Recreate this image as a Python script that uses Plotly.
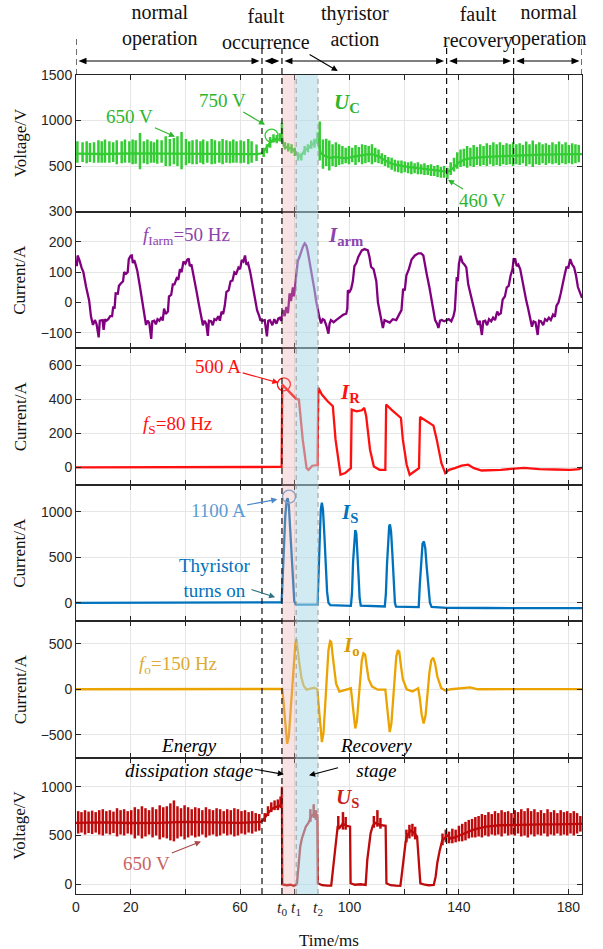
import plotly.graph_objects as go
from plotly.subplots import make_subplots

# ---------------- data ----------------
# Panel 1: capacitor voltage U_C (baseline + switching spikes)
uc_base = [(0,635),(10,632),(20,638),(30,635),(40,640),(50,635),(60,632),(66,630),(68,640),(69.5,690),(71,760),(72.5,800),
           (74,790),(75.3,820),(76,720),(77.5,700),(79,690),(80.5,650),(82,600),(83.5,670),(85,700),(86.5,740),(88.3,790),
           (89.5,640),(91,610),(93,590),(95,600),(97,590),(99,585),(101,600),(103,610),(105,620),(107,630),(109,625),
           (111,600),(113,560),(116,520),(120,495),(125,475),(130,455),(134,440),(136,435),(138,480),(140,540),(142,570),
           (145,590),(150,600),(155,608),(160,615),(165,620),(170,625),(175,628),(180,630),(185,630)]
uc_spikes = [(0.5,772,537),(2.4,761,543),(3.9,772,529),(5.1,754,543),(6.6,761,537),(8.2,783,537),(9.4,772,537),(10.6,790,537),
             (12.2,772,537),(13.6,761,543),(14.9,783,518),(16.7,772,529),(17.9,790,537),(19.5,772,537),(20.7,790,518),
             (21.8,783,526),(23.4,863,464),(24.8,772,529),(26.1,790,518),(27.4,772,537),(28.5,761,537),(29.7,790,526),
             (31.3,783,537),(32.8,826,500),(34.3,797,500),(35.8,808,518),(37.1,826,500),(38.6,874,464),(40.2,797,508),
             (41.4,772,529),(42.6,783,518),(44.1,790,518),(45.5,772,537),(46.5,790,518),(48.0,772,537),(49.6,797,518),
             (50.8,783,526),(52.4,772,537),(53.6,797,518),(55.0,783,537),(56.3,772,529),(57.5,790,537),(58.7,772,537),
             (60.2,783,529),(61.4,772,537),(63.0,797,518),(64.2,772,537),(66.0,736,554),
             (68.6,700,600),(69.8,740,640),(71.0,820,700),(72.2,850,760),(73.4,840,750),(74.6,860,770),(75.3,975,760),
             (76.4,760,680),(77.6,750,660),(78.8,740,640),(80.0,700,610),(81.2,650,560),(82.4,640,560),(83.6,720,620),
             (84.8,740,650),(86.0,780,690),(87.2,800,700),(88.3,870,740),
             (89.1,990,560),(90.3,790,470),(91.5,800,500),(92.6,780,450),(93.8,740,500),(95.0,760,490),(96.2,740,510),
             (97.4,720,520),(98.6,700,530),(99.8,720,520),(101.0,700,540),(102.2,730,510),(103.4,710,540),(104.6,740,520),
             (105.8,730,530),(107.0,720,540),(108.2,740,520),(109.4,700,540),(110.6,680,530),(111.8,640,520),(113.0,620,500),
             (114.2,600,480),(115.4,590,460),(116.6,570,440),(117.8,560,430),(119.0,560,420),(120.2,550,430),(121.4,540,420),
             (122.6,550,410),(123.8,530,420),(125.0,540,410),(126.2,520,410),(127.4,530,400),(128.6,510,400),(129.8,520,390),
             (131.0,500,390),(132.2,510,380),(133.4,490,370),(134.6,500,370),(135.8,480,360),(137.0,540,400),(138.2,590,440),
             (139.4,650,470),(140.6,680,490),(141.8,690,500),(143.0,720,480),(144.2,700,500),(145.4,730,490),(146.6,710,510),
             (147.8,740,500),(149.0,720,510),(150.2,750,500),(151.4,730,520),(152.6,760,500),(153.8,740,510),(155.0,760,500),
             (156.2,730,520),(157.4,750,510),(158.6,740,520),(159.8,760,500),(161.0,740,520),(162.2,750,510),(163.4,730,530),
             (164.6,770,500),(165.8,740,520),(167.0,780,490),(168.2,740,520),(169.4,760,510),(170.6,740,530),(171.8,750,510),
             (173.0,730,530),(174.2,760,520),(175.4,740,530),(176.6,770,510),(177.8,740,530),(179.0,760,520),(180.2,730,530),
             (181.4,750,520),(182.6,740,530),(183.8,730,540)]

# Panel 2: arm current I_arm
iarm = [(0,132),(0.3,120),(0.6,155),(1.0,140),(1.3,138),(2.0,116),(2.7,100),(3.7,51),(4.8,7),(5.5,-47),(6.2,-74),(6.9,-58),
        (7.5,-70),(8.3,-115),(8.7,-60),(9.7,-58),(10.1,-90),(10.6,-55),(11.1,-60),(11.8,-55),(12.5,-45),(13.2,-45),(13.6,-14),
        (14.1,-20),(14.5,30),(15.3,29),(15.7,55),(16.3,62),(17.2,70),(17.6,100),(18.3,95),(18.9,100),(19.3,143),(20.0,154),
        (20.4,155),(20.8,130),(21.3,140),(21.8,125),(22.4,105),(23.4,51),(24.3,0),(24.8,-25),(25.6,-74),(26.2,-60),(26.8,-68),
        (27.5,-120),(27.9,-62),(28.6,-60),(29.2,-72),(29.8,-55),(30.5,-60),(31.2,-48),(31.7,-60),(32.2,-20),(32.8,-38),
        (33.6,-30),(34.0,20),(34.8,25),(35.4,60),(36.0,60),(36.8,80),(37.4,75),(38.0,110),(38.6,100),(39.3,135),(40.0,128),
        (40.6,140),(41.2,145),(41.6,120),(42.2,125),(43.0,90),(44.0,40),(45.0,-10),(45.8,-55),(46.4,-75),(47.0,-60),(47.6,-70),
        (48.2,-110),(48.6,-60),(49.4,-62),(50.0,-75),(50.6,-55),(51.3,-58),(52.0,-45),(52.6,-60),(53.2,-30),(53.8,-38),
        (54.4,-10),(55.0,35),(55.8,40),(56.5,70),(57.2,72),(57.9,100),(58.6,95),(59.4,115),(60.0,110),(60.6,140),(61.2,135),
        (61.8,155),(62.3,125),(62.9,130),(63.7,100),(64.5,60),(65.3,20),(66.2,-25),(67.0,-45),(67.4,-58),(68.2,-60),(69.0,-58),
        (69.8,-112),(70.3,-60),(70.9,-58),(71.8,-75),(72.5,-55),(73.3,-70),(74.0,-52),(74.5,-50),(75.0,-60),(75.7,-25),
        (76.3,-45),(76.9,-15),(77.5,-35),(78.1,30),(78.6,5),(79.3,50),(79.7,20),(80.2,60),(80.6,90),(81.1,137),(81.7,150),
        (82.3,167),(83.0,185),(83.6,195),(84.2,188),(84.7,170),(85.3,140),(85.9,117),(86.6,80),(87.2,41),(87.8,5),(88.4,-25),
        (89.0,-50),(89.6,-69),(90.2,-55),(90.8,-58),(91.5,-75),(92.3,-103),(92.7,-70),(93.2,-58),(94.2,-65),(95.1,-58),
        (96.0,-52),(96.9,-48),(97.8,-40),(98.8,-37),(99.2,-20),(99.4,40),(100.0,35),(100.6,45),(101.2,70),(101.8,120),
        (102.5,130),(103.2,150),(103.7,160),(104.5,172),(105.5,176),(106.2,175),(106.7,172),(107.3,150),(107.9,117),
        (108.8,110),(109.8,70),(110.4,0),(111.3,-40),(112.2,-84),(112.8,-58),(113.7,-62),(114.7,-66),(115.8,-55),(117.1,-58),
        (118.1,-40),(119.0,-25),(119.6,45),(120.2,40),(120.8,90),(121.7,110),(122.7,142),(123.9,155),(125.2,162),(126.2,162),
        (127.0,155),(127.6,120),(128.2,95),(129.2,50),(130.1,0),(130.7,-30),(131.3,-58),(132.0,-70),(132.5,-84),(133.1,-60),
        (133.7,-58),(134.6,-62),(135.5,-58),(136.3,-55),(137.2,-62),(138.0,-45),(138.5,-25),(139.2,84),(139.6,70),(140.0,127),
        (140.6,154),(141.3,132),(142.0,125),(142.7,116),(143.4,60),(144.1,30),(144.8,7),(145.5,-20),(146.2,-47),(147.0,-74),
        (147.6,-60),(148.4,-107),(148.9,-62),(149.6,-60),(150.3,-75),(151.0,-55),(151.8,-62),(152.5,-50),(153.2,-58),
        (154.0,-30),(154.6,-40),(155.3,-36),(156.0,10),(156.8,20),(157.5,50),(158.2,55),(158.9,89),(159.6,110),(160.0,143),
        (160.6,143),(161.1,120),(161.7,125),(162.4,110),(163.1,73),(163.8,40),(164.6,7),(165.3,-20),(166.0,-47),(166.7,-80),
        (167.3,-62),(168.0,-65),(168.8,-107),(169.3,-60),(170.0,-62),(170.8,-75),(171.5,-55),(172.2,-60),(172.9,-50),
        (173.6,-58),(174.4,-40),(175.1,-47),(175.7,-10),(176.4,0),(177.2,29),(177.8,60),(178.6,89),(179.3,116),(180.0,115),
        (180.7,143),(181.4,125),(182.1,116),(182.8,90),(183.5,51),(184.2,35),(185.0,15)]

# Panel 3: resistor current I_R
ir = [(0,0),(15,1),(30,2),(45,-1),(60,2),(75.2,3),(75.4,485),(77.3,455),(79,425),(80.5,402),(81.5,398),(82.9,163),(84.3,-4),
      (85,-14),(86.4,10),(88.3,14),(88.6,467),(89.9,427),(92,388),(93.9,359),(94.9,163),(96.7,-43),(98.4,-33),(100.5,-4),
      (100.8,339),(102.6,329),(104.5,335),(105.4,349),(106.1,300),(107.5,104),(108.9,6),(111,-14),(113.1,-14),(113.4,369),
      (115.3,339),(118.8,290),(119.5,163),(120.9,16),(122,-43),(123.7,-24),(125.4,-4),(125.8,296),(127.9,276),(130.7,245),
      (131.9,163),(133.6,25),(135,-33),(136.4,-14),(138.5,-4),(141,10),(143.4,16),(145.5,-4),(148.3,-18),(155.3,-14),
      (163.8,-2),(169.4,-10),(175,-12),(180.7,-14),(184,-10),(185,0)]

# Panel 4: thyristor current I_S
is_ = [(0,0),(20,3),(40,2),(60,4),(75.2,5),(75.6,300),(76.0,650),(76.5,950),(77.0,1120),(77.4,1150),(77.8,1080),(78.3,800),
       (78.8,450),(79.3,150),(79.8,20),(80.3,-15),(80.8,-19),(88.3,-20),(88.7,300),(89.1,750),(89.5,1030),(89.9,1100),
       (90.3,1020),(90.8,750),(91.3,420),(91.8,120),(92.3,0),(93.0,-26),(100.5,-33),(100.9,100),(101.3,450),(101.7,700),
       (102.1,800),(102.5,760),(102.9,580),(103.3,300),(103.7,50),(104.1,-30),(112.9,-40),(113.3,100),(113.7,420),(114.1,680),
       (114.5,840),(114.8,860),(115.2,780),(115.7,520),(116.2,200),(116.6,0),(117.0,-42),(125.3,-48),(125.7,200),(126.2,500),
       (126.7,650),(127.2,675),(127.7,600),(128.2,400),(128.8,150),(129.4,0),(130.0,-45),(135.6,-55),(150,-57),(170,-58),
       (183.5,-59),(185,-59)]

# Panel 5: output current I_o
io = [(0,0),(20,3),(40,2),(60,3),(75.4,3),(75.9,-150),(76.5,-400),(77.2,-600),(77.8,-520),(78.4,-250),(79,50),(79.6,300),
      (80.2,500),(80.6,550),(81.1,450),(81.7,280),(82.4,130),(83.2,40),(84.3,-5),(85.7,10),(87.1,18),(88.2,0),(88.7,-150),
      (89.3,-400),(89.9,-580),(90.5,-480),(91.1,-150),(91.7,200),(92.3,430),(92.9,530),(93.3,520),(93.8,380),(94.4,200),
      (95.1,60),(96.3,-25),(98.4,-10),(100.5,10),(100.9,-100),(101.5,-300),(102.1,-430),(102.7,-350),(103.3,-100),
      (103.9,150),(104.5,320),(105.1,395),(105.7,380),(106.3,250),(107,110),(108.2,30),(110.3,-5),(113.1,-5),(113.5,-120),
      (114.1,-340),(114.7,-470),(115.3,-380),(115.9,-120),(116.5,170),(117.1,360),(117.7,430),(118.2,410),(118.8,260),
      (119.5,110),(120.9,0),(123,-25),(125.1,10),(125.7,-100),(126.4,-280),(127.1,-375),(127.8,-290),(128.5,-50),
      (129.2,180),(129.9,320),(130.6,345),(131.3,280),(132.1,140),(133.5,15),(135,-15),(137.1,0),(144.1,20),(146.9,0),
      (160,3),(175,5),(185,2)]

# Panel 6: submodule voltage U_S (baseline + spikes)
us_base = [(0,630),(10,635),(20,628),(30,630),(40,640),(50,632),(60,630),(67.5,640),(68.5,660),(69.5,700),(70.5,740),(72,780),
           (73.5,800),(75.2,815),(75.3,1000),(75.4,0),(77,-10),(78.5,-5),(79.5,-15),(80.5,-5),(80.8,10),(81.4,200),(82,390),
           (82.6,470),(83.2,530),(84,590),(85,630),(86,700),(87,720),(88.2,710),(88.4,10),(90,-10),(92,-15),(93.3,-15),
           (93.6,60),(94.2,220),(94.8,390),(95.7,600),(96.4,580),(97.5,620),(99,600),(100.2,590),(100.4,10),(102,-5),(104,0),
           (105.9,-7),(106.5,250),(107.1,420),(107.7,520),(108.5,600),(109.5,630),(111,610),(113.2,600),(113.5,10),(115,-10),
           (117,-15),(118.6,-17),(119.2,120),(119.8,290),(120.5,430),(121.1,500),(122.3,550),(123.5,530),(124.7,490),
           (125.9,10),(127.5,-5),(129,-10),(130.8,-7),(131.5,80),(132.1,220),(133,350),(133.9,450),(135.8,500),(137,470),
           (138.5,480),(140,500),(142,520),(144,545),(146,565),(148,580),(150,590),(155,605),(160,610),(165,612),(170,615),
           (175,615),(180,615),(185,620)]
us_spikes = [(0.8,750,520),(2.0,740,530),(3.3,760,510),(4.6,745,525),(5.9,755,515),(7.2,740,530),(8.5,760,510),(9.8,770,500),
             (11.1,750,520),(12.4,760,510),(13.7,745,525),(15.0,780,490),(16.3,760,510),(17.6,770,500),(18.9,750,520),
             (20.2,760,510),(21.5,790,470),(22.8,770,500),(24.1,800,470),(25.4,780,490),(26.7,760,510),(28.0,790,480),
             (29.3,770,500),(30.6,810,460),(31.9,790,480),(33.2,800,470),(34.5,830,450),(35.8,860,440),(37.1,800,470),
             (38.4,780,490),(39.7,810,460),(41.0,790,480),(42.3,770,500),(43.6,790,480),(44.9,780,490),(46.2,760,510),
             (47.5,790,480),(48.8,770,500),(50.1,760,510),(51.4,780,490),(52.7,770,500),(54.0,750,520),(55.3,770,500),
             (56.6,760,510),(57.9,780,490),(59.2,770,500),(60.5,750,520),(61.8,760,510),(63.1,740,530),(64.4,750,520),
             (65.7,730,540),(67.0,720,550),
             (69.0,730,640),(70.2,800,700),(71.4,840,740),(72.6,860,760),(73.8,870,760),(74.8,900,780),
             (85.7,770,640),(86.9,820,680),(87.7,760,660),(95.9,700,560),(97.6,740,560),(98.6,690,560),(108.9,700,580),
             (110.2,760,590),(111.3,680,570),(120.8,560,430),(121.9,610,470),(123.0,620,490),(124.0,590,460),
             (134.0,520,400),(135.2,560,430),(136.4,540,420),(137.6,570,420),(138.8,560,430),(140.0,600,440),(141.2,620,440),
             (142.4,640,450),(143.6,660,470),(144.8,670,480),(146.0,690,480),(147.2,700,490),(148.4,720,480),(149.6,710,500),
             (150.8,740,490),(152.0,720,510),(153.2,750,500),(154.4,730,510),(155.6,760,490),(156.8,740,520),(158.0,750,500),
             (159.2,730,510),(160.4,760,500),(161.6,740,520),(162.8,770,490),(164.0,750,500),(165.2,780,480),(166.4,750,510),
             (167.6,770,490),(168.8,740,510),(170.0,760,500),(171.2,730,520),(172.4,770,490),(173.6,740,510),(174.8,760,500),
             (176.0,730,520),(177.2,760,500),(178.4,740,510),(179.6,750,500),(180.8,730,520),(182.0,750,500),(183.2,730,520),
             (184.4,700,540)]

# stage boundaries (ms)
t_fault, t0, t1, t2, t_recov, t_normal = 68, 75.3, 80.5, 88.5, 135.5, 160
x_major = [0, 20, 60, 100, 140, 180]
x_minor = [40, 80, 120, 160]
y_ranges = [[0, 1500], [-150, 300], [-100, 700], [-200, 1300], [-750, 750], [-100, 1300]]
y_ticks = [[500, 1000, 1500], [-100, 0, 100, 200, 300], [0, 200, 400, 600], [0, 500, 1000], [-500, 0, 500], [0, 500, 1000]]
y_titles = ['Voltage/V', 'Current/A', 'Current/A', 'Current/A', 'Current/A', 'Voltage/V']

# ---------------- styles ----------------
SERIF = 'Liberation Serif, Times New Roman, serif'
SANS = 'Liberation Sans, Arial, sans-serif'
C_UC, C_UC_T = '#33CC33', '#2DB52D'
C_IA, C_IA_T = '#800080', '#8E44AD'
C_IR = '#FF1010'
C_IS = '#0072BD'
C_IO, C_IO_T = '#EBA300', '#DDAA33'
C_US = '#BE0A0A'
LW = 2.3

FIG_W, FIG_H = 603, 949
M_L, M_R, M_T, M_B = 76, 21, 75, 55
H_PLOT = FIG_H - M_T - M_B
W_PLOT = FIG_W - M_L - M_R
PX_MS = W_PLOT / 185.0


def xy(pairs):
    return [p[0] for p in pairs], [p[1] for p in pairs]


def spike_xy(sp):
    xs, ys = [], []
    for t, h, l in sp:
        xs += [t, t, None]
        ys += [l, h, None]
    return xs, ys


fig = make_subplots(rows=6, cols=1, shared_xaxes=True, vertical_spacing=0)

series = [(1, uc_base, uc_spikes, C_UC), (2, iarm, None, C_IA), (3, ir, None, C_IR),
          (4, is_, None, C_IS), (5, io, None, C_IO), (6, us_base, us_spikes, C_US)]
for row, base, sp, col in series:
    bx, by = xy(base)
    fig.add_trace(go.Scatter(x=bx, y=by, mode='lines', line=dict(color=col, width=LW), showlegend=False,
                             hoverinfo='skip'), row=row, col=1)
    if sp:
        sx, sy = spike_xy(sp)
        fig.add_trace(go.Scatter(x=sx, y=sy, mode='lines', line=dict(color=col, width=2.5), showlegend=False,
                                 hoverinfo='skip', connectgaps=False), row=row, col=1)

for i in range(6):
    r = i + 1
    fig.update_yaxes(range=y_ranges[i], tickvals=y_ticks[i], ticks='inside', ticklen=5, tickcolor='#262626',
                     showline=True, linecolor='#262626', linewidth=1, mirror='ticks', showgrid=True,
                     gridcolor='#e6e6e6', gridwidth=1, zeroline=False,
                     tickfont=dict(family=SANS, size=14, color='#262626'), row=r, col=1)
    fig.update_xaxes(range=[0, 185], tickmode='array', tickvals=x_major, ticks='inside', ticklen=5,
                     tickcolor='#262626', showline=True, linecolor='#262626', linewidth=1, mirror='ticks',
                     showgrid=True, gridcolor='#e6e6e6', gridwidth=1, zeroline=False,
                     minor=dict(tickmode='array', tickvals=x_minor, ticks='inside', ticklen=5, tickcolor='#262626',
                                showgrid=True, gridcolor='#e6e6e6', gridwidth=1),
                     showticklabels=(r == 6), tickfont=dict(family=SANS, size=14, color='#262626'), row=r, col=1)

top_ext = 1 + 30 / H_PLOT

shapes = []
# circles marking the highlighted values
for xr, yr, cx, cy, col in [('x', 'y', 71.5, 834, C_UC), ('x3', 'y3', 76, 487, C_IR), ('x4', 'y4', 77.9, 1167, '#5B9BD5')]:
    shapes.append(dict(type='circle', xref=xr, yref=yr, xsizemode='pixel', ysizemode='pixel', xanchor=cx, yanchor=cy,
                       x0=-6.5, x1=6.5, y0=-6.5, y1=6.5, line=dict(color=col, width=1.3), layer='above'))
# shaded stages
shapes.append(dict(type='rect', xref='x', yref='paper', x0=t0, x1=t1, y0=0, y1=1, fillcolor='rgb(232,170,170)',
                   opacity=0.33, line=dict(width=0), layer='above'))
shapes.append(dict(type='rect', xref='x', yref='paper', x0=t1, x1=t2, y0=0, y1=1, fillcolor='rgb(173,216,230)',
                   opacity=0.55, line=dict(width=0), layer='above'))
for xv in [t1, t2]:
    shapes.append(dict(type='line', xref='x', yref='paper', x0=xv, x1=xv, y0=0, y1=1,
                       line=dict(color='#9a9a9a', width=1, dash='5px,4px'), layer='above'))
for xv in [t_fault, t0, t_recov, t_normal]:
    shapes.append(dict(type='line', xref='x', yref='paper', x0=xv, x1=xv, y0=0, y1=top_ext,
                       line=dict(color='#111111', width=1.2, dash='6px,4px'), layer='above'))
for xv in [0, 185]:
    shapes.append(dict(type='line', xref='x', yref='paper', x0=xv, x1=xv, y0=1, y1=top_ext + 0.012,
                       line=dict(color='#111111', width=1.2, dash='6px,4px'), layer='above'))

# double-headed stage arrows above the top panel (line + two filled heads)
y_arr = 1 + 14 / H_PLOT
gap_ms = 2.5 / PX_MS
head_ms = 8 / PX_MS
head_h = 3.2 / H_PLOT
bounds = [0, t_fault, t0, t_recov, t_normal, 185]
for a, b in zip(bounds[:-1], bounds[1:]):
    xa, xb = a + gap_ms, b - gap_ms
    shapes.append(dict(type='line', xref='x', yref='paper', x0=xa + head_ms * 0.6, x1=xb - head_ms * 0.6,
                       y0=y_arr, y1=y_arr, line=dict(color='black', width=1.1), layer='above'))
    shapes.append(dict(type='path', xref='x', yref='paper', layer='above', fillcolor='black', line=dict(width=0),
                       path=f'M {xa} {y_arr} L {xa + head_ms} {y_arr + head_h} L {xa + head_ms} {y_arr - head_h} Z'))
    shapes.append(dict(type='path', xref='x', yref='paper', layer='above', fillcolor='black', line=dict(width=0),
                       path=f'M {xb} {y_arr} L {xb - head_ms} {y_arr + head_h} L {xb - head_ms} {y_arr - head_h} Z'))
fig.update_layout(shapes=shapes)

ann = []


def label(x, y, s, xref, yref, size=19, color='black', head=None, acolor=None):
    d = dict(x=x, y=y, text=s, xref=xref, yref=yref, showarrow=False, xanchor='center', yanchor='middle',
             font=dict(family=SERIF, size=size, color=color))
    if head is not None:
        d.update(x=head[0], y=head[1], ax=x, ay=y, axref=xref, ayref=yref, showarrow=True, arrowhead=2,
                 arrowsize=1.1, arrowwidth=1.1, arrowcolor=acolor or color, standoff=0)
    ann.append(d)


UPX6 = 1400 / (H_PLOT / 6)      # panel-6 data units per pixel

# top stage labels
for xc, s, ypx in [(30.7, 'normal<br>operation', 26), (102, 'thyristor<br>action', 26),
                   (146.9, 'fault<br>recovery', 28), (173, 'normal<br>operation', 26)]:
    label(xc, 1 + (75 - ypx) / H_PLOT, s, 'x', 'paper', size=20, color='#111111')
ann.append(dict(x=95.7, y=1 + 4 / H_PLOT, xref='x', yref='paper', ax=69.5, axref='x', ay=29 - 71, ayref='pixel',
                text='fault<br>occurrence', showarrow=True, arrowhead=2, arrowsize=1.1, arrowwidth=1.1,
                arrowcolor='black', xanchor='center', yanchor='middle',
                font=dict(family=SERIF, size=20, color='#111111')))

# panel 1
label(19.7, 1040, '650 V', 'x', 'y', color=C_UC_T, head=(36.2, 822))
label(53.7, 1225, '750 V', 'x', 'y', color=C_UC_T, head=(69.1, 953))
label(99, 1190, '<b><i>U</i><sub>C</sub></b>', 'x', 'y', size=21, color=C_UC_T)
label(148.7, 116, '460 V', 'x', 'y', color=C_UC_T, head=(136, 348))

# panel 2
label(40.3, 219, '<i>f</i><sub>Iarm</sub>=50 Hz', 'x2', 'y2', color=C_IA_T)
label(98.6, 219, '<b><i>I</i><sub>arm</sub></b>', 'x2', 'y2', size=21, color=C_IA_T)

# panel 3
label(52, 594, '500 A', 'x3', 'y3', color=C_IR, head=(74, 496))
label(100, 437, '<b><i>I</i><sub>R</sub></b>', 'x3', 'y3', size=21, color=C_IR)
label(37.2, 251, '<i>f</i><sub>S</sub>=80 Hz', 'x3', 'y3', color=C_IR)

# panel 4
label(52, 1018, '1100 A', 'x4', 'y4', color='#5B9BD5', head=(73.6, 1137), acolor='#4A86C8')
label(100, 989, '<b><i>I</i><sub>S</sub></b>', 'x4', 'y4', size=21, color=C_IS)
label(50.6, 275, 'Thyristor<br>turns on', 'x4', 'y4', color=C_IS, head=(72.8, 62), acolor='#2F7482')

# panel 5
label(37.2, 268, '<i>f</i><sub>o</sub>=150 Hz', 'x5', 'y5', color=C_IO_T)
label(100.7, 470, '<b><i>I</i><sub>o</sub></b>', 'x5', 'y5', size=21, color='#D99A00')

# panel 6
y_stage = 1300 - 0.5 * UPX6
label(41.4, y_stage, '<i>Energy</i><br><i>dissipation stage</i>', 'x6', 'y6', head=(76, 1127))
label(109.5, y_stage, '<i>Recovery</i><br><i>stage</i>', 'x6', 'y6', head=(85.2, 1117))
label(99.3, 887, '<b><i>U</i><sub>S</sub></b>', 'x6', 'y6', size=21, color='#C81E1E')
label(25.9, 217, '650 V', 'x6', 'y6', color='#C86464', head=(45.7, 439), acolor='#A84848')

# t0 t1 t2 labels
for xv, s in [(t0, '<i>t</i><sub>0</sub>'), (t1, '<i>t</i><sub>1</sub>'), (t2, '<i>t</i><sub>2</sub>')]:
    ann.append(dict(x=xv, y=0, xref='x6', yref='paper', text=s, showarrow=False, xanchor='center', yanchor='top',
                    yshift=-3, font=dict(family=SERIF, size=16, color='#262626')))

# axis titles
for i, s in enumerate(y_titles):
    yc = 1 - (i + 0.5) / 6
    ann.append(dict(x=(20 - 76) / W_PLOT, y=yc, xref='paper', yref='paper', text=s, textangle=-90, showarrow=False,
                    xanchor='center', yanchor='middle', font=dict(family=SERIF, size=17, color='#111111')))
ann.append(dict(x=0.5, y=-(940 - 894) / H_PLOT, xref='paper', yref='paper', text='Time/ms', showarrow=False,
                xanchor='center', yanchor='middle', font=dict(family=SERIF, size=17, color='#111111')))

fig.update_layout(annotations=ann, width=FIG_W, height=FIG_H, margin=dict(l=M_L, r=M_R, t=M_T, b=M_B),
                  plot_bgcolor='white', paper_bgcolor='white', showlegend=False, hovermode=False)

# remove the page's default 8 px body margin so the figure sits at the window origin
fig.write_html('out.html', config={'displayModeBar': False, 'staticPlot': True},
               post_script="document.body.style.margin='0px';")
